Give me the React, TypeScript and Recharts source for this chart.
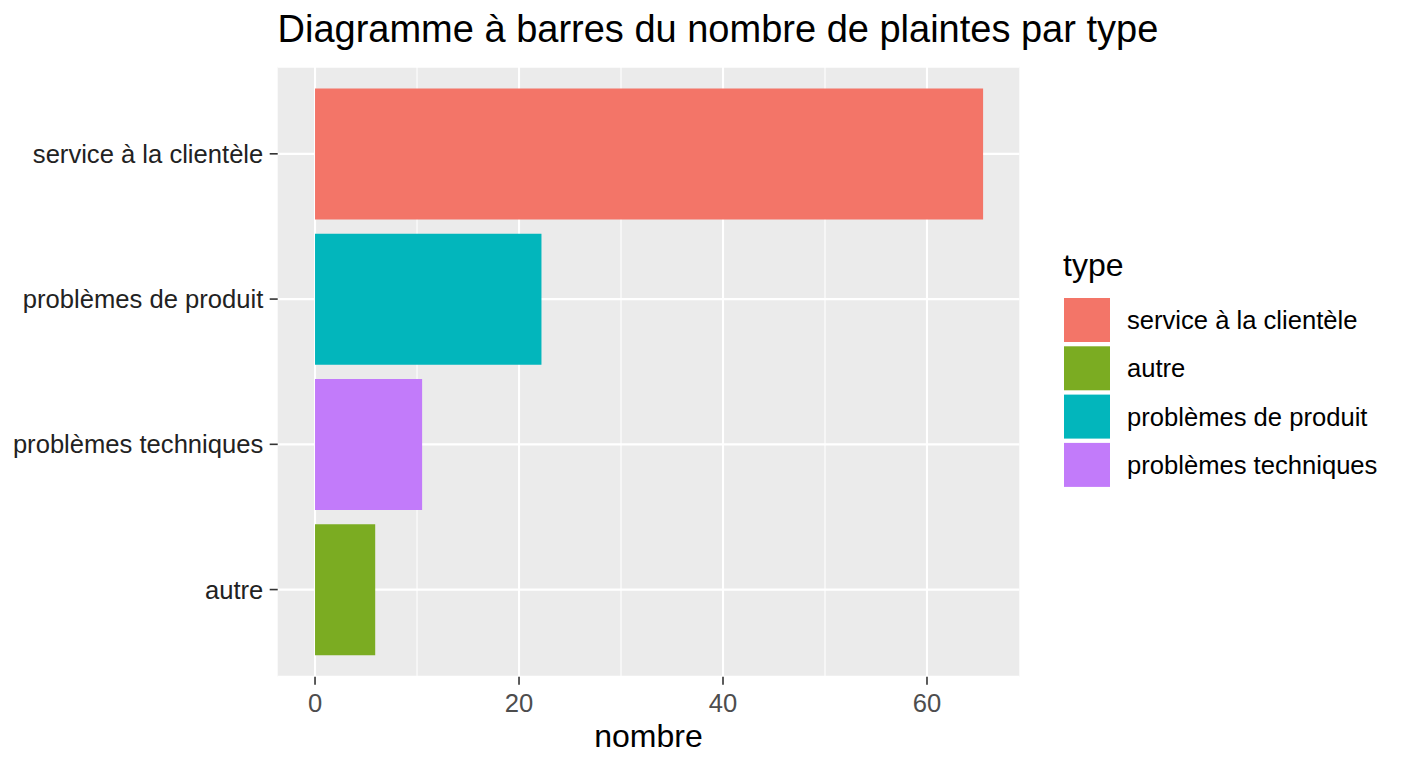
import React from "react";
import { Bar, BarChart, CartesianGrid, Cell, Legend, XAxis, YAxis } from "recharts";

const categories = ["service à la clientèle", "problèmes de produit", "problèmes techniques", "autre"];
const counts = [65.5, 22.2, 10.5, 5.9];
const colors = ["#F37568", "#02B6BC", "#C27BFA", "#7BAC22"];
const legendOrder = ["service à la clientèle", "autre", "problèmes de produit", "problèmes techniques"];
const majorTicks = [0, 20, 40, 60];
const minorTicks = [10, 30, 50];
const xDomain = [-3.66, 69.05];

const data = categories.map((type, i) => ({ type, nombre: counts[i], color: colors[i] }));
const colorOf = (type: string) => colors[categories.indexOf(type)];

const FONT = '"Liberation Sans", Arial, Helvetica, sans-serif';

function LegendBox() {
  return (
    <svg width={350} height={260} style={{ display: "block", fontFamily: FONT }}>
      <text x={8} y={31} fontSize={32} fill="#000">
        type
      </text>
      {legendOrder.map((type, i) => (
        <g key={type}>
          <rect x={9} y={53 + i * 48.3} width={46} height={44} fill={colorOf(type)} />
          <text x={72} y={75 + i * 48.3} dy="0.35em" fontSize={25.6} fill="#000">
            {type}
          </text>
        </g>
      ))}
    </svg>
  );
}

export default function App() {
  return (
    <div
      style={{
        position: "absolute",
        left: 0,
        top: 0,
        width: 1408,
        height: 768,
        background: "#fff",
        fontFamily: FONT,
      }}
    >
      <div
        style={{
          position: "absolute",
          left: 277.5,
          top: 10,
          fontSize: 38,
          lineHeight: 1,
          color: "#000",
          whiteSpace: "nowrap",
        }}
      >
        Diagramme à barres du nombre de plaintes par type
      </div>
      <BarChart
        width={1408}
        height={768}
        data={data}
        layout="vertical"
        margin={{ top: 66.7, right: 388.7, bottom: 0, left: 0 }}
        barCategoryGap="5%"
      >
        <CartesianGrid horizontal={false} verticalValues={minorTicks} stroke="#fff" strokeWidth={1.1} fill="#EBEBEB" />
        <CartesianGrid verticalValues={majorTicks} stroke="#fff" strokeWidth={2.1} />
        <XAxis
          type="number"
          domain={xDomain}
          allowDataOverflow
          ticks={majorTicks}
          axisLine={false}
          tickLine={{ stroke: "#333", strokeWidth: 1.6 }}
          tickSize={8}
          tickMargin={9}
          height={91.3}
          tick={{ fontSize: 25.6, fill: "#4D4D4D" }}
          label={{ value: "nombre", position: "insideBottom", offset: 21.5, fontSize: 32, fill: "#000" }}
        />
        <YAxis
          type="category"
          dataKey="type"
          width={277.7}
          padding={{ top: 14.5, bottom: 14.5 }}
          axisLine={false}
          tickLine={{ stroke: "#333", strokeWidth: 1.6 }}
          tickSize={8}
          tickMargin={6.4}
          interval={0}
          tick={{ fontSize: 25.6, fill: "#222" }}
        />
        <Legend
          align="center"
          verticalAlign="middle"
          wrapperStyle={{ left: 1055, top: 245, width: 350, height: 260 }}
          content={() => <LegendBox />}
        />
        <Bar dataKey="nombre" isAnimationActive={false}>
          {data.map((d) => (
            <Cell key={d.type} fill={d.color} />
          ))}
        </Bar>
      </BarChart>
    </div>
  );
}
